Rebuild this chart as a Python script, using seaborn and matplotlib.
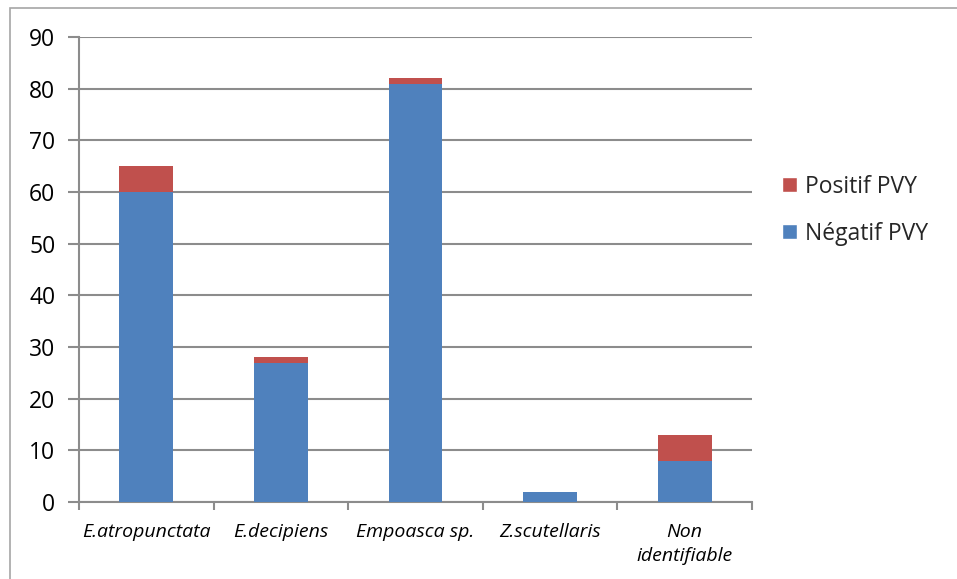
import matplotlib
matplotlib.use("Agg")
import matplotlib.pyplot as plt
import seaborn as sns
import pandas as pd
from matplotlib.patches import Rectangle, Patch

# Insect counts by species and PVY test result
species = ["E.atropunctata", "E.decipiens", "Empoasca sp.", "Z.scutellaris", "Non\nidentifiable"]
negatif = [60, 27, 81, 2, 8]
positif = [5, 1, 1, 0, 5]

df = pd.DataFrame({"espece": species, "negatif": negatif, "positif": positif})
df["total"] = df["negatif"] + df["positif"]

sns.set_theme(style="white")
plt.rcParams["font.family"] = ["Open Sans", "DejaVu Sans"]

BLUE = "#4F81BD"
RED = "#C0504D"
GRID = "#8C8C8C"

fig = plt.figure(figsize=(9.57, 5.79), dpi=100)
ax = fig.add_axes([79 / 957, 1 - 502 / 579, (752 - 79) / 957, (502 - 37) / 579])

# stacked bars: full height in red, negative part drawn over it in blue
sns.barplot(data=df, x="espece", y="total", color=RED, width=0.4, saturation=1,
            linewidth=0, ax=ax, zorder=3)
sns.barplot(data=df, x="espece", y="negatif", color=BLUE, width=0.4, saturation=1,
            linewidth=0, ax=ax, zorder=4)

ax.set_xlim(-0.5, len(species) - 0.5)
ax.set_ylim(0, 90)
ax.set_yticks(range(0, 91, 10))
ax.yaxis.grid(True, color=GRID, linewidth=1.5, zorder=0)
ax.set_xlabel("")
ax.set_ylabel("")

for s in ["top", "right"]:
    ax.spines[s].set_visible(False)
for s in ["left", "bottom"]:
    ax.spines[s].set_color(GRID)
    ax.spines[s].set_linewidth(1.5)

ax.tick_params(axis="y", which="major", length=8, width=1.5, color=GRID,
               labelsize=16.5, labelcolor="black", pad=9, left=True)
ax.set_xticks(range(len(species)))
ax.set_xticklabels(species, fontsize=14, fontstyle="italic", color="black",
                   linespacing=1.45)
ax.tick_params(axis="x", which="major", length=0, pad=15)
ax.set_xticks([i - 0.5 for i in range(len(species) + 1)], minor=True)
ax.tick_params(axis="x", which="minor", length=6, width=1.5, color=GRID, bottom=True)

handles = [Patch(facecolor=RED, label="Positif PVY"),
           Patch(facecolor=BLUE, label="Négatif PVY")]
fig.legend(handles=handles, loc="upper left", bbox_to_anchor=(761 / 957, 1 - 154 / 579),
           frameon=False, fontsize=16.5, handlelength=0.65, handleheight=0.65,
           handletextpad=0.35, labelspacing=1.0)

# outer chart frame
fig.patches.append(Rectangle((10 / 957, -0.1), 1.2, 1.1 - 8 / 579,
                             transform=fig.transFigure, fill=False,
                             edgecolor="#A6A6A6", linewidth=1.2))

fig.savefig("out.png", dpi=100)
